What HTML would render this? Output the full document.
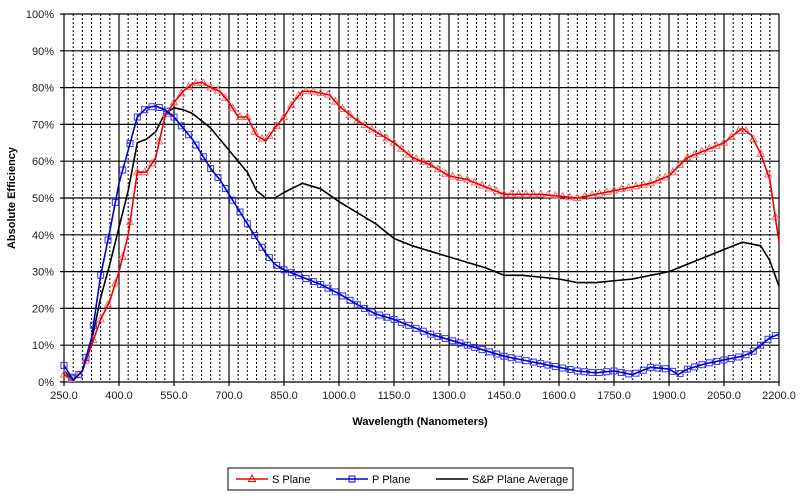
<!DOCTYPE html><html><head><style>body{margin:0;background:#fff}svg{display:block;font-family:"Liberation Sans",Arial,sans-serif}</style></head><body>
<svg id="s" width="800" height="498" xmlns="http://www.w3.org/2000/svg"></svg>
<script>
const S=document.getElementById('s');let h='';
const X=n=>64+(n-250)*55/150, Y=p=>382-p*3.68;
for(let n=275;n<2200;n+=25){if((n-250)%150)h+=`<line x1="${X(n)}" y1="14" x2="${X(n)}" y2="382" stroke="#000" stroke-width="1" stroke-dasharray="2,2"/>`;}
for(let n=250;n<=2200;n+=150){h+=`<line x1="${X(n)}" y1="14" x2="${X(n)}" y2="386" stroke="#000" stroke-width="1.2"/><text x="${X(n)}" y="399" font-size="11" text-anchor="middle" fill="#222">${n}.0</text>`;}
for(let p=0;p<=100;p+=10){h+=`<line x1="60" y1="${Y(p)}" x2="${X(2200)}" y2="${Y(p)}" stroke="#000" stroke-width="1.2"/><text x="54" y="${Y(p)+4}" font-size="11" text-anchor="end" fill="#222">${p}%</text>`;}
h+=`<text x="15" y="198" font-size="11" font-weight="bold" text-anchor="middle" transform="rotate(-90 15 198)">Absolute Efficiency</text><text x="420" y="425" font-size="11" font-weight="bold" text-anchor="middle">Wavelength (Nanometers)</text>`;
const Sd=[[250,2],[275,.5],[300,3],[325,10],[350,17],[375,22],[400,30],[425,40],[450,57],[475,57],[500,61],[525,72],[550,76],[575,79],[600,81],[625,81.5],[650,80],[675,79],[700,76],[725,72],[750,72],[775,67],[800,65.5],[825,69],[850,72],[875,76],[900,79],[925,79],[950,78.5],[975,78],[1000,75],[1025,73],[1050,71],[1100,68],[1150,65],[1200,61],[1250,59],[1300,56],[1350,55],[1400,53],[1450,51],[1500,51],[1550,51],[1600,50.5],[1650,50],[1700,51],[1750,52],[1800,53],[1850,54],[1900,56],[1950,61],[2000,63],[2050,65],[2100,69],[2125,67],[2150,62],[2175,55],[2200,38]];
const Pd=[[250,4.5],[275,.5],[300,3],[325,12],[350,29],[375,41],[400,54],[425,63],[450,72],[475,74.5],[500,75],[525,74],[550,72],[575,69],[600,66],[625,62],[650,58],[675,55],[700,51],[725,47],[750,43],[775,39],[800,35],[825,32],[850,30.5],[900,28.5],[950,26.5],[1000,24],[1050,21],[1100,18.5],[1150,17],[1200,15],[1250,13],[1300,11.5],[1350,10],[1400,8.5],[1450,7],[1500,6],[1550,5],[1600,4],[1650,3],[1700,2.5],[1750,3],[1800,2],[1850,4],[1900,3.5],[1925,2],[1950,3.5],[2000,5],[2050,6],[2100,7],[2125,8],[2150,10],[2175,12],[2200,13]];
const Ad=[[250,3],[275,.5],[300,3],[325,11],[350,23],[375,32],[400,42],[425,52],[450,65],[475,66],[500,68],[525,73],[550,74.5],[575,74],[600,73],[650,69],[700,63],[750,57],[775,52],[800,50],[825,50],[850,51.5],[900,54],[950,52.5],[1000,49],[1050,46],[1100,43],[1150,39],[1200,37],[1300,34],[1400,31],[1450,29],[1500,29],[1600,28],[1650,27],[1700,27],[1800,28],[1850,29],[1900,30],[2000,34],[2050,36],[2100,38],[2150,37],[2175,33],[2200,26]];
const interp=(d,n)=>{for(let i=1;i<d.length;i++)if(n<=d[i][0]){const a=d[i-1],b=d[i];return a[1]+(b[1]-a[1])*(n-a[0])/(b[0]-a[0]);}return d[d.length-1][1];};
const path=(d,c,w)=>`<polyline fill="none" stroke="${c}" stroke-width="${w}" stroke-linejoin="round" points="${d.map(p=>X(p[0]).toFixed(1)+','+Y(p[1]).toFixed(1)).join(' ')}"/>`;
h+=path(Ad,'#000',1.6);
for(let n=250;n<=2200;n+=20){const x=X(n),y=Y(interp(Sd,n));h+=`<polygon points="${x},${y-4} ${x-3.5},${y+2.5} ${x+3.5},${y+2.5}" fill="none" stroke="#f66" stroke-width="1"/>`;}
h+=path(Sd,'#e00',1.6);
for(let n=250;n<=2200;n+=20){const x=X(n),y=Y(interp(Pd,n));h+=`<rect x="${x-3}" y="${y-3}" width="6" height="6" fill="none" stroke="#33f" stroke-width="1"/>`;}
h+=path(Pd,'#00c',1.6);
h+=`<rect x="228" y="468" width="345" height="22" fill="#fff" stroke="#000"/>
<line x1="236" y1="479" x2="268" y2="479" stroke="#e00" stroke-width="1.6"/><polygon points="252,475 248.5,481.5 255.5,481.5" fill="none" stroke="#e00"/><text x="272" y="483" font-size="11">S Plane</text>
<line x1="336" y1="479" x2="368" y2="479" stroke="#00c" stroke-width="1.6"/><rect x="349" y="476" width="6" height="6" fill="none" stroke="#00c"/><text x="372" y="483" font-size="11">P Plane</text>
<line x1="436" y1="479" x2="468" y2="479" stroke="#000" stroke-width="1.6"/><text x="472" y="483" font-size="11">S&amp;P Plane Average</text>`;
S.innerHTML=h;
</script></body></html>
